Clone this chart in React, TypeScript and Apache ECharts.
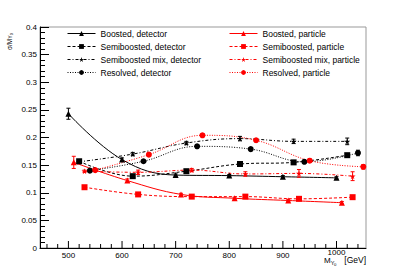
import React, { useEffect, useRef } from "react";
import * as echarts from "echarts";

// ---- data ----
const boostedDetX = [500, 600, 700, 800, 900, 1000];
const boostedDetY = [0.243, 0.16, 0.132, 0.131, 0.129, 0.127];
const boostedDetErr = [0.01, 0.003, 0.002, 0.002, 0.002, 0.002];

const semiDetX = [520, 620, 720, 820, 920, 1020];
const semiDetY = [0.157, 0.13, 0.139, 0.152, 0.155, 0.168];
const semiDetErr = [0.002, 0.002, 0.002, 0.002, 0.002, 0.003];

const mixDetX = [520, 620, 720, 820, 920, 1020];
const mixDetY = [0.156, 0.17, 0.19, 0.198, 0.193, 0.193];
const mixDetErr = [0.003, 0.003, 0.003, 0.004, 0.004, 0.006];

const resDetX = [540, 640, 740, 840, 940, 1040];
const resDetY = [0.14, 0.157, 0.184, 0.179, 0.156, 0.172];
const resDetErr = [0.002, 0.002, 0.003, 0.003, 0.003, 0.005];

const boostedPartX = [510, 610, 710, 810, 910, 1010];
const boostedPartY = [0.155, 0.122, 0.097, 0.09, 0.086, 0.082];
const boostedPartErr = [0.011, 0.003, 0.002, 0.002, 0.002, 0.002];

const semiPartX = [530, 630, 730, 830, 930, 1030];
const semiPartY = [0.11, 0.097, 0.093, 0.093, 0.089, 0.092];
const semiPartErr = [0.002, 0.002, 0.002, 0.002, 0.002, 0.002];

const mixPartX = [530, 630, 730, 830, 930, 1030];
const mixPartY = [0.139, 0.137, 0.141, 0.134, 0.135, 0.13];
const mixPartErr = [0.002, 0.004, 0.003, 0.004, 0.007, 0.008];

const resPartX = [550, 650, 750, 850, 950, 1050];
const resPartY = [0.141, 0.169, 0.204, 0.195, 0.158, 0.147];
const resPartErr = [0.002, 0.003, 0.003, 0.003, 0.003, 0.004];

const xTickValues = [460, 480, 500, 520, 540, 560, 580, 600, 620, 640, 660, 680, 700, 720, 740, 760, 780, 800, 820, 840, 860, 880, 900, 920, 940, 960, 980, 1000, 1020, 1040];
const xMajorTicks = [500, 600, 700, 800, 900, 1000];

const FONT = "Liberation Sans, Arial, Helvetica, sans-serif";
const STAR = "path://M50,0 L61,35 L98,35 L68,57 L79,91 L50,70 L21,91 L32,57 L2,35 L39,35 Z";

type Graph = {
  name: string;
  xs: number[];
  ys: number[];
  errs: number[];
  color: string;
  symbol: string;
  size: number;
  dash: any;
};

const graphs: Graph[] = [
  { name: "Boosted, detector", xs: boostedDetX, ys: boostedDetY, errs: boostedDetErr, color: "#000000", symbol: "triangle", size: 6, dash: "solid" },
  { name: "Semiboosted, detector", xs: semiDetX, ys: semiDetY, errs: semiDetErr, color: "#000000", symbol: "rect", size: 6, dash: [3, 2] },
  { name: "Semiboosted mix, detector", xs: mixDetX, ys: mixDetY, errs: mixDetErr, color: "#000000", symbol: STAR, size: 6, dash: [3, 2, 1, 2] },
  { name: "Resolved, detector", xs: resDetX, ys: resDetY, errs: resDetErr, color: "#000000", symbol: "circle", size: 6, dash: [1, 1.5] },
  { name: "Boosted, particle", xs: boostedPartX, ys: boostedPartY, errs: boostedPartErr, color: "#ff0000", symbol: "triangle", size: 6, dash: "solid" },
  { name: "Semiboosted, particle", xs: semiPartX, ys: semiPartY, errs: semiPartErr, color: "#ff0000", symbol: "rect", size: 6, dash: [3, 2] },
  { name: "Semiboosted mix, particle", xs: mixPartX, ys: mixPartY, errs: mixPartErr, color: "#ff0000", symbol: STAR, size: 6, dash: [3, 2, 1, 2] },
  { name: "Resolved, particle", xs: resPartX, ys: resPartY, errs: resPartErr, color: "#ff0000", symbol: "circle", size: 6, dash: [1, 1.5] },
];

export default function App() {
  const ref = useRef<HTMLDivElement>(null);

  useEffect(() => {
    if (!ref.current) return;
    const chart = echarts.init(ref.current, undefined, { renderer: "svg" });

    const lineSeries = graphs.map((g) => ({
      type: "line",
      name: g.name,
      data: g.xs.map((x, i) => [x, g.ys[i]]),
      smooth: 0.4,
      symbol: g.symbol,
      symbolSize: g.size,
      showSymbol: true,
      lineStyle: { color: g.color, width: 1, type: g.dash },
      itemStyle: { color: g.color, borderWidth: 0 },
      z: 3,
    }));

    const errData: any[] = [];
    graphs.forEach((g) => {
      g.xs.forEach((x, i) => errData.push([x, g.ys[i], g.errs[i], g.color === "#000000" ? 0 : 1]));
    });

    const errSeries = {
      type: "custom",
      name: "errors",
      data: errData,
      z: 4,
      silent: true,
      renderItem: (params: any, api: any) => {
        const x = api.value(0);
        const y = api.value(1);
        const e = api.value(2);
        const col = api.value(3) === 0 ? "#000000" : "#ff0000";
        const top = api.coord([x, y + e]);
        const bot = api.coord([x, y - e]);
        const c = 2;
        return {
          type: "group",
          children: [
            { type: "line", shape: { x1: top[0], y1: top[1], x2: bot[0], y2: bot[1] }, style: { stroke: col, lineWidth: 1 } },
            { type: "line", shape: { x1: top[0] - c, y1: top[1], x2: top[0] + c, y2: top[1] }, style: { stroke: col, lineWidth: 1 } },
            { type: "line", shape: { x1: bot[0] - c, y1: bot[1], x2: bot[0] + c, y2: bot[1] }, style: { stroke: col, lineWidth: 1 } },
          ],
        };
      },
    };

    const tickSeries = {
      type: "custom",
      name: "xticks",
      data: xTickValues.map((v) => [v, xMajorTicks.indexOf(v) >= 0 ? 1 : 0]),
      z: 5,
      silent: true,
      renderItem: (params: any, api: any) => {
        const v = api.value(0);
        const major = api.value(1) === 1;
        const p = api.coord([v, 0]);
        const len = major ? 7 : 4;
        return {
          type: "line",
          shape: { x1: p[0], y1: p[1], x2: p[0], y2: p[1] - len },
          style: { stroke: "#000", lineWidth: 1 },
        };
      },
    };

    const legendCommon = {
      orient: "vertical",
      top: 29,
      itemWidth: 28,
      itemHeight: 6,
      itemGap: 4,
      padding: 0,
      lineStyle: { width: 1 },
      textStyle: { fontSize: 8.5, color: "#000", fontFamily: FONT },
      selectedMode: false,
    };

    const txt = (text: string, x: number, y: number, size: number, align: string, rot = 0) => ({
      type: "text",
      x,
      y,
      rotation: rot,
      silent: true,
      style: { text, align, verticalAlign: "middle", fill: "#000", fontSize: size, fontFamily: FONT },
    });

    chart.setOption({
      animation: false,
      backgroundColor: "#ffffff",
      grid: { left: 40, right: 41, top: 27, bottom: 28, show: true, borderColor: "#999", borderWidth: 1 },
      xAxis: {
        type: "value",
        min: 447,
        max: 1055,
        axisLine: { show: true, lineStyle: { color: "#000", width: 1 } },
        axisTick: { show: false },
        minorTick: { show: false },
        splitLine: { show: false },
        axisLabel: {
          color: "#000",
          fontSize: 8,
          fontFamily: FONT,
          margin: 3,
          formatter: (v: number) => (v % 100 === 0 ? (v === 1000 ? "{hi|1000}" : String(v)) : ""),
          rich: { hi: { fontSize: 8, fontFamily: FONT, color: "#000", lineHeight: 3 } },
        },
      },
      yAxis: {
        type: "value",
        min: 0,
        max: 0.4,
        interval: 0.05,
        axisLine: { show: true, lineStyle: { color: "#000", width: 1 } },
        axisTick: { show: true, inside: true, length: 9, lineStyle: { color: "#000" } },
        minorTick: { show: true, splitNumber: 5, length: 5, lineStyle: { color: "#000" } },
        splitLine: { show: false },
        axisLabel: {
          color: "#000",
          fontSize: 8,
          fontFamily: FONT,
          margin: 3,
          formatter: (v: number) => String(parseFloat(v.toFixed(2))),
        },
      },
      legend: [
        { ...legendCommon, left: 67, data: graphs.slice(0, 4).map((g) => g.name) },
        { ...legendCommon, left: 229, data: graphs.slice(4).map((g) => g.name) },
      ],
      graphic: [
        // y-axis title: σ/M_{Y_0}, rotated
        txt("σ/M", 9, 50, 6.5, "left", Math.PI / 2),
        txt("Y", 10.8, 38.5, 4.8, "left", Math.PI / 2),
        txt("0", 12.3, 35.3, 3.8, "left", Math.PI / 2),
        // x-axis title: M_{Y_0} [GeV]
        txt("M", 324, 260, 8, "left"),
        txt("Y", 330.8, 262.8, 5.5, "left"),
        txt("0", 334, 264.8, 4.2, "left"),
        txt("[GeV]", 366, 260, 8.5, "right"),
      ],
      series: [...lineSeries, errSeries, tickSeries],
    });

    return () => chart.dispose();
  }, []);

  return (
    <div
      ref={ref}
      style={{ position: "fixed", left: 0, top: 0, width: 407, height: 276, background: "#fff" }}
    />
  );
}
